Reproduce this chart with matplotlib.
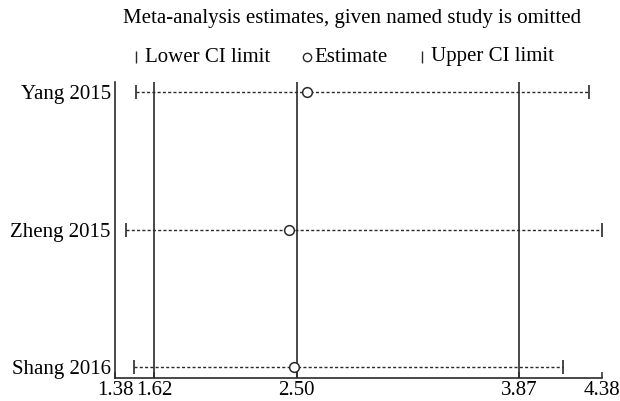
import matplotlib
matplotlib.use("Agg")
import matplotlib.pyplot as plt
from matplotlib.lines import Line2D

studies = ["Yang 2015", "Zheng 2015", "Shang 2016"]
estimates = [2.56, 2.45, 2.48]
lower_ci = [1.51, 1.45, 1.50]
upper_ci = [4.30, 4.38, 4.14]
overall_lower = 1.62
overall_est = 2.50
overall_upper = 3.87
tick_values = [1.38, 1.62, 2.50, 3.87, 4.38]
tick_labels = ["1.38", "1.62", "2.50", "3.87", "4.38"]

plt.rcParams['font.family'] = ['Liberation Serif', 'DejaVu Serif']
FS = 15
W, H = 620, 401
fig = plt.figure(figsize=(W / 100, H / 100), dpi=100)
ax = fig.add_axes([115 / W, (H - 378) / H, (602 - 115) / W, (378 - 82) / H])

rows = list(range(1, len(studies) + 1))
col = "#2a2a2a"
for v in (overall_lower, overall_est, overall_upper):
    ax.axvline(v, color=col, lw=1.2, zorder=1)

for r, lo, est, hi in zip(rows, lower_ci, estimates, upper_ci):
    ax.plot([lo, hi], [r, r], color=col, lw=1.0, ls=(0, (2.2, 1.6)), zorder=2)
    ax.plot([lo, hi], [r, r], ls='none', marker='|', ms=9.5, mew=1.2, color=col, zorder=3)
    ax.plot([est], [r], ls='none', marker='o', ms=7, mfc='white', mec=col, mew=1.1, zorder=4)

ax.set_xlim(1.38, 4.38)
ax.set_ylim(3.08, 0.927)
ax.set_xticks(tick_values)
ax.set_xticklabels(tick_labels, fontsize=FS)
ax.set_yticks(rows)
ax.set_yticklabels(studies, fontsize=FS)
ax.tick_params(axis='y', length=0, pad=3)
ax.tick_params(axis='x', direction='in', length=4.5, width=1.1, color=col, pad=2.5)
for s in ('top', 'right'):
    ax.spines[s].set_visible(False)
for s in ('left', 'bottom'):
    ax.spines[s].set_color(col)
    ax.spines[s].set_linewidth(1.2)

fig.text(352 / W, 1 - 18 / H, "Meta-analysis estimates, given named study is omitted",
         ha='center', va='center', fontsize=FS)

ly = 1 - 57 / H
fig.add_artist(Line2D([136 / W], [ly], marker='|', ms=8.5, mew=1.0, color=col, transform=fig.transFigure))
fig.text(145 / W, ly, "Lower CI limit", ha='left', va='center', fontsize=FS)
fig.add_artist(Line2D([307 / W], [ly], marker='o', ms=6, mfc='white', mec=col, mew=1.0, transform=fig.transFigure))
fig.text(314 / W, ly, "Estimate", ha='left', va='center', fontsize=FS)
fig.add_artist(Line2D([422 / W], [ly], marker='|', ms=8.5, mew=1.0, color=col, transform=fig.transFigure))
fig.text(431 / W, ly, "Upper CI limit", ha='left', va='center', fontsize=FS)

fig.savefig("out.png", dpi=100, facecolor='white')
